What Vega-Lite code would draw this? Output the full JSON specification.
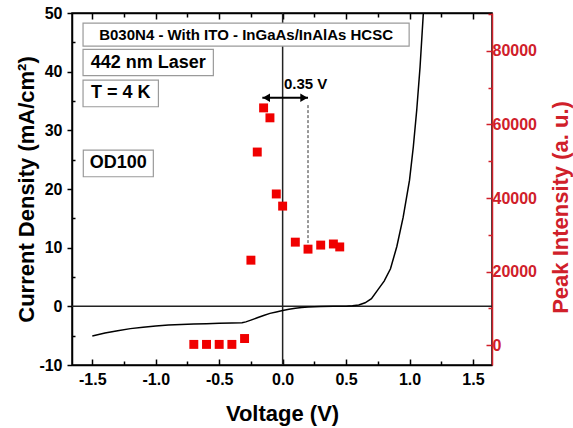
{
  "$schema": "https://vega.github.io/schema/vega-lite/v6.json",
  "width": 420,
  "height": 352,
  "autosize": {"type": "none"},
  "padding": {"left": 72, "top": 13, "right": 81, "bottom": 63},
  "background": "white",
  "config": {
    "view": {"stroke": "black", "strokeWidth": 1.5},
    "font": "Liberation Sans",
    "axis": {
      "grid": false,
      "labelFont": "Liberation Sans",
      "labelFontWeight": "bold",
      "labelFontSize": 16,
      "titleFont": "Liberation Sans",
      "titleFontWeight": "bold",
      "titleFontSize": 22,
      "domainColor": "black",
      "tickColor": "black",
      "labelColor": "black",
      "titleColor": "black",
      "domainWidth": 1.5,
      "tickWidth": 1.5
    }
  },
  "datasets": {
    "iv": [
      {"V": -1.5, "J": -5.05}, {"V": -1.4, "J": -4.55}, {"V": -1.3, "J": -4.15}, {"V": -1.2, "J": -3.8},
      {"V": -1.1, "J": -3.55}, {"V": -1.0, "J": -3.35}, {"V": -0.9, "J": -3.2}, {"V": -0.8, "J": -3.1},
      {"V": -0.7, "J": -3.02}, {"V": -0.6, "J": -2.96}, {"V": -0.5, "J": -2.9}, {"V": -0.4, "J": -2.85},
      {"V": -0.32, "J": -2.8}, {"V": -0.29, "J": -2.65}, {"V": -0.25, "J": -2.35}, {"V": -0.2, "J": -1.95},
      {"V": -0.15, "J": -1.55}, {"V": -0.1, "J": -1.2}, {"V": -0.05, "J": -0.95}, {"V": 0.0, "J": -0.72},
      {"V": 0.05, "J": -0.5}, {"V": 0.1, "J": -0.33}, {"V": 0.15, "J": -0.2}, {"V": 0.2, "J": -0.1},
      {"V": 0.3, "J": -0.03}, {"V": 0.4, "J": 0.0}, {"V": 0.5, "J": 0.03}, {"V": 0.55, "J": 0.08},
      {"V": 0.6, "J": 0.22}, {"V": 0.65, "J": 0.6}, {"V": 0.7, "J": 1.3}, {"V": 0.75, "J": 2.8},
      {"V": 0.8, "J": 4.3}, {"V": 0.85, "J": 6.4}, {"V": 0.9, "J": 10.2}, {"V": 0.95, "J": 15.2},
      {"V": 1.0, "J": 21.5}, {"V": 1.03, "J": 27.2}, {"V": 1.057, "J": 33.5}, {"V": 1.083, "J": 40.8},
      {"V": 1.109, "J": 50.0}
    ],
    "pl": [
      {"V": -0.7, "I": 200}, {"V": -0.6, "I": 200}, {"V": -0.5, "I": 200}, {"V": -0.4, "I": 200},
      {"V": -0.3, "I": 1800}, {"V": -0.25, "I": 23100}, {"V": -0.2, "I": 52500}, {"V": -0.15, "I": 64500},
      {"V": -0.1, "I": 61800}, {"V": -0.05, "I": 41100}, {"V": 0.0, "I": 37800}, {"V": 0.1, "I": 28000},
      {"V": 0.2, "I": 26100}, {"V": 0.3, "I": 27200}, {"V": 0.4, "I": 27500}, {"V": 0.45, "I": 26700}
    ],
    "boxes": [
      {"x1": -1.573, "x2": 0.997, "y1": 48.29, "y2": 44.37, "cx": -0.288, "cy": 46.33, "label": "B030N4 - With ITO - InGaAs/InAlAs HCSC", "kind": "title"},
      {"x1": -1.573, "x2": -0.546, "y1": 43.81, "y2": 39.31, "cx": -1.059, "cy": 41.56, "label": "442 nm Laser", "kind": "tag"},
      {"x1": -1.573, "x2": -0.979, "y1": 38.57, "y2": 34.02, "cx": -1.276, "cy": 36.31, "label": "T = 4 K", "kind": "tag"},
      {"x1": -1.571, "x2": -1.019, "y1": 26.64, "y2": 22.09, "cx": -1.295, "cy": 24.37, "label": "OD100", "kind": "tag"}
    ],
    "zero": [{"z": 0}],
    "arrow": [{"x1": -0.16, "x2": 0.2, "y": 35.56}],
    "heads": [{"x": -0.128, "y": 35.56, "dir": "left"}, {"x": 0.168, "y": 35.56, "dir": "right"}],
    "dash": [{"x": 0.2, "y1": 34.3, "y2": 10.1}],
    "note": [{"x": 0.01, "y": 37.98, "label": "0.35 V"}]
  },
  "layer": [
    {
      "data": {"name": "zero"},
      "mark": {"type": "rule", "color": "#222", "strokeWidth": 1.5},
      "encoding": {
        "y": {"field": "z", "type": "quantitative", "scale": {"domain": [-10, 50], "nice": false, "zero": false}, "axis": null}
      }
    },
    {
      "data": {"name": "zero"},
      "mark": {"type": "rule", "color": "#222", "strokeWidth": 1.5},
      "encoding": {
        "x": {"field": "z", "type": "quantitative", "scale": {"domain": [-1.66, 1.65], "nice": false, "zero": false}, "axis": null}
      }
    },
    {
      "data": {"name": "iv"},
      "mark": {"type": "line", "color": "black", "strokeWidth": 1.5, "clip": true},
      "encoding": {
        "x": {
          "field": "V", "type": "quantitative",
          "scale": {"domain": [-1.66, 1.65], "nice": false, "zero": false},
          "axis": {
            "orient": "bottom",
            "title": "Voltage (V)",
            "values": [-1.5, -1.25, -1.0, -0.75, -0.5, -0.25, 0, 0.25, 0.5, 0.75, 1.0, 1.25, 1.5],
            "labelExpr": "abs(datum.value*2 - round(datum.value*2)) < 0.01 ? replace(format(datum.value, '.1f'), '\u2212', '-') : ''",
            "tickSize": {"condition": {"test": "abs(datum.value*2 - round(datum.value*2)) < 0.01", "value": -6}, "value": -4},
            "labelPadding": 12,
            "titleBaseline": "alphabetic",
            "titleY": 55
          }
        },
        "y": {
          "field": "J", "type": "quantitative",
          "scale": {"domain": [-10, 50], "nice": false, "zero": false},
          "axis": {
            "orient": "left",
            "title": "Current Density (mA/cm²)",
            "values": [-10, -5, 0, 5, 10, 15, 20, 25, 30, 35, 40, 45, 50],
            "labelExpr": "datum.value % 10 === 0 ? replace(format(datum.value, '.0f'), '\u2212', '-') : ''",
            "tickSize": {"condition": {"test": "datum.value % 10 === 0", "value": 5}, "value": -3},
            "labelPadding": 5,
            "titleX": -46,
            "titleBaseline": "middle"
          }
        }
      }
    },
    {
      "data": {"name": "boxes"},
      "mark": {"type": "rect", "fill": "white", "stroke": "#9a9a9a", "strokeWidth": 1.2},
      "encoding": {
        "x": {"field": "x1", "type": "quantitative", "scale": {"domain": [-1.66, 1.65], "nice": false, "zero": false}, "axis": null},
        "x2": {"field": "x2"},
        "y": {"field": "y1", "type": "quantitative", "scale": {"domain": [-10, 50], "nice": false, "zero": false}, "axis": null},
        "y2": {"field": "y2"}
      }
    },
    {
      "data": {"name": "boxes"},
      "transform": [{"filter": "datum.kind === 'title'"}],
      "mark": {"type": "text", "font": "Liberation Sans", "fontWeight": "bold", "fontSize": 15, "align": "center", "baseline": "middle", "color": "black"},
      "encoding": {
        "x": {"field": "cx", "type": "quantitative", "scale": {"domain": [-1.66, 1.65], "nice": false, "zero": false}, "axis": null},
        "y": {"field": "cy", "type": "quantitative", "scale": {"domain": [-10, 50], "nice": false, "zero": false}, "axis": null},
        "text": {"field": "label"}
      }
    },
    {
      "data": {"name": "boxes"},
      "transform": [{"filter": "datum.kind === 'tag'"}],
      "mark": {"type": "text", "font": "Liberation Sans", "fontWeight": "bold", "fontSize": 18, "align": "center", "baseline": "middle", "color": "black"},
      "encoding": {
        "x": {"field": "cx", "type": "quantitative", "scale": {"domain": [-1.66, 1.65], "nice": false, "zero": false}, "axis": null},
        "y": {"field": "cy", "type": "quantitative", "scale": {"domain": [-10, 50], "nice": false, "zero": false}, "axis": null},
        "text": {"field": "label"}
      }
    },
    {
      "data": {"name": "arrow"},
      "mark": {"type": "rule", "color": "black", "strokeWidth": 2},
      "encoding": {
        "x": {"field": "x1", "type": "quantitative", "scale": {"domain": [-1.66, 1.65], "nice": false, "zero": false}, "axis": null},
        "x2": {"field": "x2"},
        "y": {"field": "y", "type": "quantitative", "scale": {"domain": [-10, 50], "nice": false, "zero": false}, "axis": null}
      }
    },
    {
      "data": {"name": "heads"},
      "mark": {"type": "point", "filled": true, "color": "black", "opacity": 1, "size": 70},
      "encoding": {
        "x": {"field": "x", "type": "quantitative", "scale": {"domain": [-1.66, 1.65], "nice": false, "zero": false}, "axis": null},
        "y": {"field": "y", "type": "quantitative", "scale": {"domain": [-10, 50], "nice": false, "zero": false}, "axis": null},
        "shape": {"field": "dir", "type": "nominal", "scale": {"domain": ["left", "right"], "range": ["triangle-left", "triangle-right"]}, "legend": null}
      }
    },
    {
      "data": {"name": "dash"},
      "mark": {"type": "rule", "color": "#333", "strokeWidth": 1, "strokeDash": [3, 2]},
      "encoding": {
        "x": {"field": "x", "type": "quantitative", "scale": {"domain": [-1.66, 1.65], "nice": false, "zero": false}, "axis": null},
        "y": {"field": "y1", "type": "quantitative", "scale": {"domain": [-10, 50], "nice": false, "zero": false}, "axis": null},
        "y2": {"field": "y2"}
      }
    },
    {
      "data": {"name": "note"},
      "mark": {"type": "text", "font": "Liberation Sans", "fontWeight": "bold", "fontSize": 15, "align": "left", "baseline": "middle", "color": "black"},
      "encoding": {
        "x": {"field": "x", "type": "quantitative", "scale": {"domain": [-1.66, 1.65], "nice": false, "zero": false}, "axis": null},
        "y": {"field": "y", "type": "quantitative", "scale": {"domain": [-10, 50], "nice": false, "zero": false}, "axis": null},
        "text": {"field": "label"}
      }
    },
    {
      "data": {"name": "pl"},
      "mark": {"type": "square", "size": 80, "color": "#f00000", "opacity": 1},
      "encoding": {
        "x": {
          "field": "V", "type": "quantitative",
          "scale": {"domain": [-1.66, 1.65], "nice": false, "zero": false},
          "axis": {
            "orient": "top",
            "title": null,
            "labels": false,
            "values": [-1.5, -1.25, -1.0, -0.75, -0.5, -0.25, 0, 0.25, 0.5, 0.75, 1.0, 1.25, 1.5],
            "tickSize": {"condition": {"test": "abs(datum.value*2 - round(datum.value*2)) < 0.01", "value": -6}, "value": -4}
          }
        },
        "y": {
          "field": "I", "type": "quantitative",
          "scale": {"domain": [-5400, 90300], "nice": false, "zero": false},
          "axis": {
            "orient": "right",
            "title": "Peak Intensity (a. u.)",
            "values": [0, 10000, 20000, 30000, 40000, 50000, 60000, 70000, 80000, 90000],
            "labelExpr": "datum.value % 20000 === 0 ? format(datum.value, '.0f') : ''",
            "tickSize": {"condition": {"test": "datum.value % 20000 === 0", "value": -6}, "value": -4},
            "labelPadding": 6,
            "domainColor": "#d0202a",
            "tickColor": "#d0202a",
            "labelColor": "#d0202a",
            "titleColor": "#d0202a",
            "titleAngle": 270,
            "titleBaseline": "middle",
            "titleX": 68,
            "titleY": 194
          }
        }
      }
    }
  ],
  "resolve": {"scale": {"y": "independent"}, "axis": {"y": "independent", "x": "independent"}}
}
